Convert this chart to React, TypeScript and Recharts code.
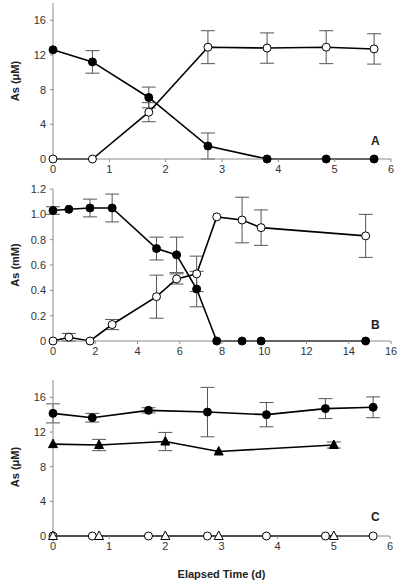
import React from 'react';
import { LineChart, Line, XAxis, YAxis, ErrorBar, Label } from 'recharts';

// Panel A (µM, 0-6 d)
const aDays = [0, 0.7, 1.7, 2.75, 3.8, 4.85, 5.7];
const aFilled = [12.6, 11.2, 7.1, 1.5, 0, 0, 0];
const aFilledErr = [0, 1.3, 1.2, 1.5, 0, 0, 0];
const aOpen = [0, 0, 5.4, 12.9, 12.8, 12.9, 12.7];
const aOpenErr = [0, 0, 1.1, 1.9, 1.75, 1.9, 1.75];

// Panel B (mM, 0-16 d)
const bDays = [0, 0.75, 1.75, 2.8, 4.9, 5.85, 6.8, 7.75, 8.95, 9.85, 14.8];
const bFilled = [1.03, 1.04, 1.05, 1.05, 0.73, 0.68, 0.41, 0, 0, 0, 0];
const bFilledErr = [0.03, 0, 0.07, 0.11, 0.09, 0.14, 0.14, 0, 0, 0, 0];
const bOpen = [0, 0.03, 0, 0.13, 0.35, 0.49, 0.53, 0.98, 0.955, 0.895, 0.83];
const bOpenErr = [0, 0.03, 0, 0.04, 0.17, 0.04, 0.14, 0, 0.18, 0.14, 0.17];

// Panel C (µM, 0-6 d)
const cCircDays = [0, 0.7, 1.7, 2.75, 3.8, 4.85, 5.7];
const cFilledCirc = [14.15, 13.65, 14.5, 14.3, 14.0, 14.7, 14.85];
const cFilledCircErr = [1.1, 0.5, 0.3, 2.85, 1.4, 1.15, 1.2];
const cOpenCirc = [0, 0, 0, 0, 0, 0, 0];
const cTriDays = [0, 0.82, 2.0, 2.95, 5.0];
const cFilledTri = [10.6, 10.5, 10.9, 9.75, 10.5];
const cFilledTriErr = [0, 0.65, 1.05, 0, 0.35];
const cOpenTri = [0, 0, 0, 0, 0];

const ticks6 = [0, 1, 2, 3, 4, 5, 6];
const ticks16 = [0, 2, 4, 6, 8, 10, 12, 14, 16];
const ticksUM = [0, 4, 8, 12, 16];
const ticksMM = [0, 0.2, 0.4, 0.6, 0.8, 1.0, 1.2];

const rows = (xs: number[], ys: number[], es?: number[]) =>
  xs.map((x, i) => ({ x, y: ys[i], e: es ? es[i] : 0 }));

const FONT = '"Liberation Sans", Arial, sans-serif';
const frame = '#8c8c8c';
const tickStyle = { fill: '#333', fontSize: 11, fontFamily: FONT };

const filledDot = { r: 4, fill: '#000', stroke: '#000', strokeWidth: 1 };
const openDot = { r: 4, fill: '#fff', stroke: '#000', strokeWidth: 1 };

const triangle = (fill: string) => (p: any) => {
  const { cx, cy, index } = p;
  if (cx == null || cy == null) return <g key={index} />;
  return (
    <polygon
      key={index}
      points={`${cx},${cy - 5} ${cx - 4.5},${cy + 3.5} ${cx + 4.5},${cy + 3.5}`}
      fill={fill}
      stroke="#000"
      strokeWidth={1}
    />
  );
};

// rotated y-axis title, centred on the plot area
const yTitle = (text: string, shift = 0) => (props: any) => {
  const vb = props.viewBox || {};
  const cy = (vb.y ?? 0) + (vb.height ?? 0) / 2 + shift;
  return (
    <text
      x={15}
      y={cy}
      transform={`rotate(-90, 15, ${cy})`}
      textAnchor="middle"
      dominantBaseline="central"
      fontFamily={FONT}
      fontSize={11}
      fontWeight="bold"
      fill="#222"
    >
      {text}
    </text>
  );
};

const letterStyle = (top: number): React.CSSProperties => ({
  position: 'absolute',
  left: 371,
  top,
  fontFamily: FONT,
  fontWeight: 'bold',
  fontSize: 12,
  color: '#222',
  lineHeight: '12px',
});

export default function App() {
  const errProps = { dataKey: 'e', width: 7, stroke: '#555', strokeWidth: 1, direction: 'y' as const };
  const lineProps = { dataKey: 'y', stroke: '#000', strokeWidth: 1.6, activeDot: false, isAnimationActive: false };

  // top + right borders of the box
  const frameAxes = (domainX: number[]) => [
    <XAxis key="tx" xAxisId="top" orientation="top" type="number" domain={domainX} height={0} tick={false} tickLine={false} axisLine={{ stroke: frame }} />,
    <YAxis key="ry" yAxisId="right" orientation="right" type="number" domain={[0, 1]} width={0} tick={false} tickLine={false} axisLine={{ stroke: frame }} />,
  ];

  return (
    <div style={{ position: 'absolute', left: 0, top: 0, width: 400, height: 585, background: '#fff' }}>
      {/* Panel A */}
      <div style={{ position: 'absolute', left: 0, top: 0 }}>
        <LineChart width={400} height={180} margin={{ top: 3, right: 9, left: 0, bottom: 1 }}>
          <XAxis dataKey="x" type="number" domain={[0, 6]} ticks={ticks6} height={20} tick={tickStyle} tickSize={3} tickMargin={3} tickLine={{ stroke: frame }} axisLine={{ stroke: frame }} />
          <YAxis type="number" domain={[0, 18]} ticks={ticksUM} width={53} tick={tickStyle} tickSize={3} tickMargin={4} tickLine={{ stroke: frame }} axisLine={{ stroke: frame }}>
            <Label content={yTitle('As (\u03BCM)')} />
          </YAxis>
          {frameAxes([0, 6])}
          <Line {...lineProps} data={rows(aDays, aFilled, aFilledErr)} dot={filledDot}>
            <ErrorBar {...errProps} />
          </Line>
          <Line {...lineProps} data={rows(aDays, aOpen, aOpenErr)} dot={openDot}>
            <ErrorBar {...errProps} />
          </Line>
        </LineChart>
        <div style={letterStyle(135)}>A</div>
      </div>

      {/* Panel B */}
      <div style={{ position: 'absolute', left: 0, top: 180 }}>
        <LineChart width={400} height={180} margin={{ top: 9, right: 9, left: 0, bottom: 0 }}>
          <XAxis dataKey="x" type="number" domain={[0, 16]} ticks={ticks16} height={19} tick={tickStyle} tickSize={3} tickMargin={3} tickLine={{ stroke: frame }} axisLine={{ stroke: frame }} />
          <YAxis type="number" domain={[0, 1.2]} ticks={ticksMM} width={53} tick={tickStyle} tickSize={3} tickMargin={4} tickLine={{ stroke: frame }} axisLine={{ stroke: frame }}
            tickFormatter={(v: number) => (v === 0 ? '0' : v.toFixed(1))}>
            <Label content={yTitle('As (mM)')} />
          </YAxis>
          {frameAxes([0, 16])}
          <Line {...lineProps} data={rows(bDays, bFilled, bFilledErr)} dot={filledDot}>
            <ErrorBar {...errProps} />
          </Line>
          <Line {...lineProps} data={rows(bDays, bOpen, bOpenErr)} dot={openDot}>
            <ErrorBar {...errProps} />
          </Line>
        </LineChart>
        <div style={letterStyle(139)}>B</div>
      </div>

      {/* Panel C */}
      <div style={{ position: 'absolute', left: 0, top: 360 }}>
        <LineChart width={400} height={225} margin={{ top: 20, right: 10, left: 0, bottom: 0 }}>
          <XAxis dataKey="x" type="number" domain={[0, 6]} ticks={ticks6} height={49} tick={tickStyle} tickSize={3} tickMargin={3} tickLine={{ stroke: frame }} axisLine={{ stroke: frame }}>
            <Label value="Elapsed Time (d)" position="insideBottom" offset={7} style={{ fontFamily: FONT, fontSize: 11, fontWeight: 'bold', fill: '#222' }} />
          </XAxis>
          <YAxis type="number" domain={[0, 18]} ticks={ticksUM} width={53} tick={tickStyle} tickSize={3} tickMargin={4} tickLine={{ stroke: frame }} axisLine={{ stroke: frame }}>
            <Label content={yTitle('As (\u03BCM)', 9)} />
          </YAxis>
          {frameAxes([0, 6])}
          <Line {...lineProps} data={rows(cCircDays, cFilledCirc, cFilledCircErr)} dot={filledDot}>
            <ErrorBar {...errProps} />
          </Line>
          <Line {...lineProps} data={rows(cTriDays, cFilledTri, cFilledTriErr)} dot={triangle('#000')}>
            <ErrorBar {...errProps} />
          </Line>
          <Line {...lineProps} data={rows(cCircDays, cOpenCirc)} dot={openDot} />
          <Line {...lineProps} data={rows(cTriDays, cOpenTri)} dot={triangle('#fff')} />
        </LineChart>
        <div style={letterStyle(151)}>C</div>
      </div>
    </div>
  );
}
